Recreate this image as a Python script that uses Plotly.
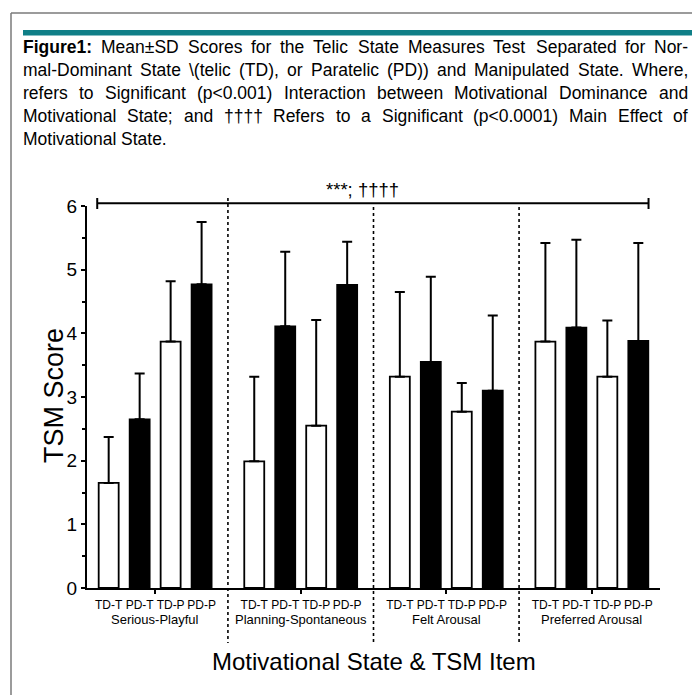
import plotly.graph_objects as go

# ---------------- data ----------------
items = ["Serious-Playful", "Planning-Spontaneous", "Felt Arousal", "Preferred Arousal"]
conditions = ["TD-T", "PD-T", "TD-P", "PD-P"]

mean_td_t = [1.65, 1.99, 3.32, 3.87]
mean_pd_t = [2.65, 4.11, 3.55, 4.09]
mean_td_p = [3.87, 2.55, 2.77, 3.32]
mean_pd_p = [4.77, 4.76, 3.10, 3.88]

sd_td_t = [0.72, 1.33, 1.33, 1.55]
sd_pd_t = [0.72, 1.17, 1.34, 1.38]
sd_td_p = [0.95, 1.66, 0.45, 0.88]
sd_pd_p = [0.98, 0.68, 1.18, 1.54]

y_ticks = [0, 1, 2, 3, 4, 5, 6]
sig_label = "***; ††††"

caption_lines = [
    "Figure1: Mean±SD Scores for the Telic State Measures Test Separated for Nor-",
    "mal-Dominant State \\(telic (TD), or Paratelic (PD)) and Manipulated State. Where,",
    "refers to Significant (p<0.001) Interaction between Motivational Dominance and",
    "Motivational State; and †††† Refers to a Significant (p<0.0001) Main Effect of",
    "Motivational State.",
]

# ---------------- geometry (page pixels; page has an 8px body margin) ----------------
OFF = 8
W, H = 700 - OFF, 695 - OFF
PLOT_LEFT, PLOT_RIGHT, PLOT_TOP, PLOT_BOTTOM = 87, 660, 206, 588
L = PLOT_LEFT - OFF
R = W + OFF - PLOT_RIGHT
T = PLOT_TOP - OFF
B = H + OFF - PLOT_BOTTOM
plot_w = PLOT_RIGHT - PLOT_LEFT
plot_h = PLOT_BOTTOM - PLOT_TOP
GROUP_STEP = 4.7
FONT = "Liberation Sans, Arial, Helvetica, sans-serif"


def px_x(px):
    return (px - PLOT_LEFT) / plot_w


def px_y(py):
    return (PLOT_BOTTOM - py) / plot_h


# Arial / Liberation Sans advance widths (per 1000 em)
AW = {" ": 278, "(": 333, ")": 333, "*": 389, ",": 278, "-": 333, ".": 278,
      ":": 278, ";": 278, "<": 584, "\\": 278, "±": 584, "†": 556,
      "A": 667, "B": 667, "C": 722, "D": 722, "E": 667, "F": 611, "G": 778,
      "H": 722, "I": 278, "J": 500, "K": 667, "L": 556, "M": 833, "N": 722,
      "O": 778, "P": 667, "Q": 778, "R": 722, "S": 667, "T": 611, "U": 722,
      "V": 667, "W": 944, "X": 667, "Y": 667, "Z": 611,
      "a": 556, "b": 556, "c": 500, "d": 556, "e": 556, "f": 278, "g": 556,
      "h": 556, "i": 222, "j": 222, "k": 500, "l": 222, "m": 833, "n": 556,
      "o": 556, "p": 556, "q": 556, "r": 333, "s": 500, "t": 278, "u": 556,
      "v": 500, "w": 722, "x": 500, "y": 500, "z": 500}
AW_BOLD = {"F": 611, "i": 278, "g": 611, "u": 611, "r": 389, "e": 556, "1": 556, ":": 333}
for d in "0123456789":
    AW[d] = 556


def text_w(s, size, bold=False):
    tab = AW_BOLD if bold else AW
    return sum(tab.get(ch, AW.get(ch, 556)) for ch in s) * size / 1000.0


def esc(s):
    return s.replace("&", "&amp;").replace("<", "&lt;").replace(">", "&gt;")


# bar positions
pos = {c: [g * GROUP_STEP + i for g in range(len(items))] for i, c in enumerate(conditions)}
centers = [g * GROUP_STEP + 1.5 for g in range(len(items))]
separators = [g * GROUP_STEP + 3 + (GROUP_STEP - 3) / 2 for g in range(len(items) - 1)]

means = {"TD-T": mean_td_t, "PD-T": mean_pd_t, "TD-P": mean_td_p, "PD-P": mean_pd_p}
sds = {"TD-T": sd_td_t, "PD-T": sd_pd_t, "TD-P": sd_td_p, "PD-P": sd_pd_p}

fig = go.Figure()
for c in conditions:
    fill = "white" if c.startswith("TD") else "black"
    fig.add_trace(go.Bar(
        x=pos[c], y=means[c], width=0.645, name=c,
        marker=dict(color=fill, line=dict(color="black", width=1.8)),
        error_y=dict(type="data", symmetric=False, array=sds[c],
                     arrayminus=[0] * len(items), color="black",
                     thickness=2, width=5),
        showlegend=False,
    ))

all_pos = sorted(p for c in conditions for p in pos[c])
tickvals = all_pos
ticktext = [conditions[i % 4] for g in range(len(items)) for i in range(4)]

shapes = []
# outer border
shapes.append(dict(type="line", xref="paper", yref="paper",
                   x0=px_x(11), x1=px_x(710), y0=px_y(13), y1=px_y(13),
                   line=dict(color="#7a7a7a", width=1.5)))
shapes.append(dict(type="line", xref="paper", yref="paper",
                   x0=px_x(11), x1=px_x(11), y0=px_y(13), y1=px_y(710),
                   line=dict(color="#7a7a7a", width=1.5)))
# teal bar
shapes.append(dict(type="rect", xref="paper", yref="paper",
                   x0=px_x(23), x1=px_x(710), y0=px_y(30), y1=px_y(35.5),
                   fillcolor="#0f7f87", line=dict(width=0)))

# dotted separators
for k, s in enumerate(separators):
    top = 198 if k == 0 else 207
    shapes.append(dict(type="line", xref="x", yref="paper",
                       x0=s, x1=s, y0=px_y(top), y1=px_y(643),
                       line=dict(color="black", width=1.6, dash="dot")))

# significance bracket
sig_x0 = all_pos[0] - 0.37
sig_x1 = all_pos[-1] + 0.33
sig_y = px_y(203.3)
shapes.append(dict(type="line", xref="x", yref="paper",
                   x0=sig_x0, x1=sig_x1, y0=sig_y, y1=sig_y,
                   line=dict(color="black", width=2)))
for xx in (sig_x0, sig_x1):
    shapes.append(dict(type="line", xref="x", yref="paper",
                       x0=xx, x1=xx, y0=px_y(198), y1=px_y(209),
                       line=dict(color="black", width=2)))

annotations = []
# justified caption: place each word
CAP_SIZE = 17.5
CAP_X0, CAP_X1 = 23, 688
for k, line in enumerate(caption_lines):
    words = line.split(" ")
    bolds = [k == 0 and j == 0 for j in range(len(words))]
    widths = [text_w(w, CAP_SIZE, b) for w, b in zip(words, bolds)]
    last = (k == len(caption_lines) - 1)
    if last or len(words) == 1:
        gap = text_w(" ", CAP_SIZE)
    else:
        gap = (CAP_X1 - CAP_X0 - sum(widths)) / (len(words) - 1)
    x = CAP_X0
    for w, b, ww in zip(words, bolds, widths):
        txt = esc(w)
        if b:
            txt = "<b>" + txt + "</b>"
        annotations.append(dict(
            xref="paper", yref="paper", x=px_x(x), y=px_y(47 + 23 * k),
            xanchor="left", yanchor="middle", showarrow=False, text=txt,
            font=dict(family=FONT, size=CAP_SIZE, color="black"),
            borderpad=0, borderwidth=0,
        ))
        x += ww + gap

annotations.append(dict(
    xref="x", yref="paper", x=(sig_x0 + sig_x1) / 2 - 0.35, y=px_y(190),
    xanchor="center", yanchor="middle", showarrow=False, text=sig_label,
    font=dict(family=FONT, size=18.5, color="black"),
))

for g, name in enumerate(items):
    annotations.append(dict(
        xref="x", yref="paper", x=centers[g], y=px_y(619),
        xanchor="center", yanchor="middle", showarrow=False, text=name,
        font=dict(family=FONT, size=13, color="black"),
    ))

annotations.append(dict(
    xref="paper", yref="paper", x=px_x(373.5), y=px_y(661),
    xanchor="center", yanchor="middle", showarrow=False,
    text="Motivational State & TSM Item",
    font=dict(family=FONT, size=24, color="black"),
))
annotations.append(dict(
    xref="paper", yref="paper", x=px_x(54), y=px_y(396),
    xanchor="center", yanchor="middle", showarrow=False, textangle=-90,
    text="TSM Score",
    font=dict(family=FONT, size=27, color="black"),
))

fig.update_layout(
    width=W, height=H,
    margin=dict(l=L, r=R, t=T, b=B),
    paper_bgcolor="white", plot_bgcolor="white",
    barmode="overlay",
    shapes=shapes, annotations=annotations,
    font=dict(family=FONT, color="black"),
    xaxis=dict(
        range=[-0.70, all_pos[-1] + 0.70], tickmode="array",
        tickvals=tickvals, ticktext=ticktext,
        tickfont=dict(family=FONT, size=12, color="black"),
        ticks="outside", ticklen=5, tickcolor="rgba(0,0,0,0)",
        showline=True, linecolor="black", linewidth=2,
        showgrid=False, zeroline=False,
        minor=dict(tickmode="array", tickvals=centers, ticks="outside",
                   ticklen=4, tickwidth=1.5, tickcolor="black", showgrid=False),
    ),
    yaxis=dict(
        range=[0, 6], tickmode="array", tickvals=y_ticks,
        ticktext=[str(v) for v in y_ticks],
        tickfont=dict(family=FONT, size=19, color="black"),
        ticks="outside", ticklen=4, tickwidth=1.5, tickcolor="black",
        showline=True, linecolor="black", linewidth=2,
        showgrid=False, zeroline=False,
        minor=dict(dtick=0.5, ticks="outside", ticklen=3, tickwidth=1.5,
                   tickcolor="black", showgrid=False),
    ),
)

fig.write_html("out.html")
